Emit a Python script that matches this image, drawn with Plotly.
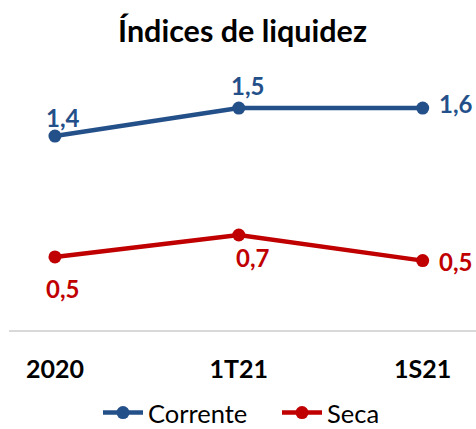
import plotly.graph_objects as go

categories = ["2020", "1T21", "1S21"]
corrente = [1.44, 1.55, 1.55]
corrente_labels = ["1,4", "1,5", "1,6"]
seca = [0.54, 0.66, 0.52]
seca_labels = ["0,5", "0,7", "0,5"]

BLUE = "#24508A"
RED = "#C00000"
FONT = "Lato"

fig = go.Figure()
fig.add_trace(go.Scatter(
    x=categories, y=corrente, name="Corrente", mode="lines+markers",
    line=dict(color=BLUE, width=4.5), marker=dict(size=13, color=BLUE),
    yaxis="y", cliponaxis=False,
))
fig.add_trace(go.Scatter(
    x=categories, y=seca, name="Seca", mode="lines+markers",
    line=dict(color=RED, width=4.5), marker=dict(size=13, color=RED),
    yaxis="y2", cliponaxis=False,
))

# data label offsets (pixels): (xshift, yshift, xanchor)
c_off = [(8, 19, "center"), (9, 23, "center"), (14, 5, "left")]
s_off = [(8, -32, "center"), (14, -22, "center"), (14, -1, "left")]
for i, (v, t) in enumerate(zip(corrente, corrente_labels)):
    dx, dy, xa = c_off[i]
    fig.add_annotation(x=i, xref="x", y=v, yref="y", text=t, showarrow=False,
                       xshift=dx, yshift=dy, xanchor=xa, yanchor="middle",
                       font=dict(family=FONT, size=24, color=BLUE, weight="bold"))
for i, (v, t) in enumerate(zip(seca, seca_labels)):
    dx, dy, xa = s_off[i]
    fig.add_annotation(x=i, xref="x", y=v, yref="y2", text=t, showarrow=False,
                       xshift=dx, yshift=dy, xanchor=xa, yanchor="middle",
                       font=dict(family=FONT, size=24, color=RED, weight="bold"))

fig.update_layout(
    width=476, height=429,
    margin=dict(l=9, r=0, t=60, b=99),
    paper_bgcolor="white", plot_bgcolor="white",
    title=dict(text="Índices de liquidez", x=0.5, xref="paper", xanchor="center",
               y=1 - 31 / 429, yref="container", yanchor="middle",
               font=dict(family=FONT, size=30.5, color="#000000", weight="bold")),
    xaxis=dict(
        type="category", range=[-0.25, 2.29],
        showgrid=False, zeroline=False,
        showline=True, linecolor="#D9D9D9", linewidth=1.5,
        ticks="outside", ticklen=16, tickcolor="rgba(0,0,0,0)",
        tickfont=dict(family=FONT, size=25, color="#000000", weight="bold"),
    ),
    yaxis=dict(range=[0.678, 1.739], visible=False, showgrid=False),
    yaxis2=dict(range=[0.141, 1.616], overlaying="y", visible=False, showgrid=False),
    showlegend=True,
    legend=dict(orientation="h", xref="container", x=98 / 476, xanchor="left",
                yref="container", y=(429 - 413) / 429, yanchor="middle",
                font=dict(family=FONT, size=25.5, color="#000000"),
                itemwidth=40, entrywidth=124),
)

fig.write_html(
    "out.html",
    config={"displayModeBar": False},
    post_script="document.body.style.margin='0';document.body.style.overflow='hidden';",
)
